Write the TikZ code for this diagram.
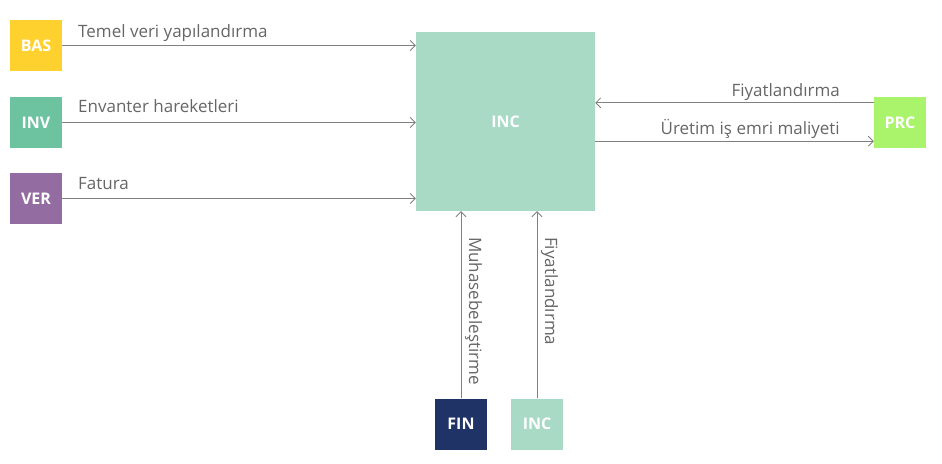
\documentclass[tikz,border=0pt]{standalone}
\usepackage{fontspec}
\setmainfont{Open Sans}
\usetikzlibrary{arrows.meta}
\definecolor{cbas}{HTML}{FFD12E}
\definecolor{cinv}{HTML}{6DC29F}
\definecolor{cver}{HTML}{936DA2}
\definecolor{cinc}{HTML}{A8DAC6}
\definecolor{cprc}{HTML}{A9F46B}
\definecolor{cfin}{HTML}{1F3366}
\definecolor{cline}{HTML}{808080}
\definecolor{ctext}{HTML}{666666}
\begin{document}
\begin{tikzpicture}[x=1pt,y=-1pt,
  box/.style={draw=none, inner sep=0pt, minimum width=52pt, minimum height=51pt,
    text=white, font=\fontsize{16}{18}\selectfont\bfseries},
  arr/.style={draw=cline, line width=0.9pt, -{Straight Barb[length=5pt,width=10pt,line width=0.8pt]}},
  lbl/.style={text=ctext, inner sep=0pt, font=\fontsize{17}{19}\selectfont}]
\useasboundingbox (0,0) rectangle (942,463);
\node[box, fill=cbas] (bas) at (36,45.5) {BAS};
\node[box, fill=cinv] (inv) at (36,122.5) {INV};
\node[box, fill=cver] (ver) at (36,198.5) {VER};
\node[box, fill=cinc, minimum width=179pt, minimum height=179pt] (inc) at (505.5,121.5) {INC};
\node[box, fill=cprc] (prc) at (900,122.5) {PRC};
\node[box, fill=cfin] (fin) at (461,424) {FIN};
\node[box, fill=cinc] (inc2) at (537,424) {INC};
\draw[arr] (bas.east) -- (bas.east -| inc.west);
\draw[arr] (inv.east) -- (inv.east -| inc.west);
\draw[arr] (ver.east) -- (ver.east -| inc.west);
\draw[arr] ([yshift=-6pt]prc.north west) -- ([yshift=-6pt]prc.north west -| inc.east);
\draw[arr] ([yshift=7pt]prc.south west -| inc.east) -- ([yshift=7pt]prc.south west);
\draw[arr] (fin.north) -- (fin.north |- inc.south);
\draw[arr] (inc2.north) -- (inc2.north |- inc.south);
\node[lbl, anchor=base west] (l1) at (78,37) {Temel veri yapılandırma};
\node[lbl, anchor=base west] (l2) at (78,112) {Envanter hareketleri};
\node[lbl, anchor=base west] (l3) at (78,189) {Fatura};
\node[lbl, anchor=base east] (l4) at (840,96) {Fiyatlandırma};
\node[lbl, anchor=base east] (l5) at (840,134) {Üretim iş emri maliyeti};
\node[lbl, anchor=base west, rotate=-90] (l6) at (469,237) {Muhasebeleştirme};
\node[lbl, anchor=base west, rotate=-90] (l7) at (545,237) {Fiyatlandırma};
\end{tikzpicture}
\end{document}
